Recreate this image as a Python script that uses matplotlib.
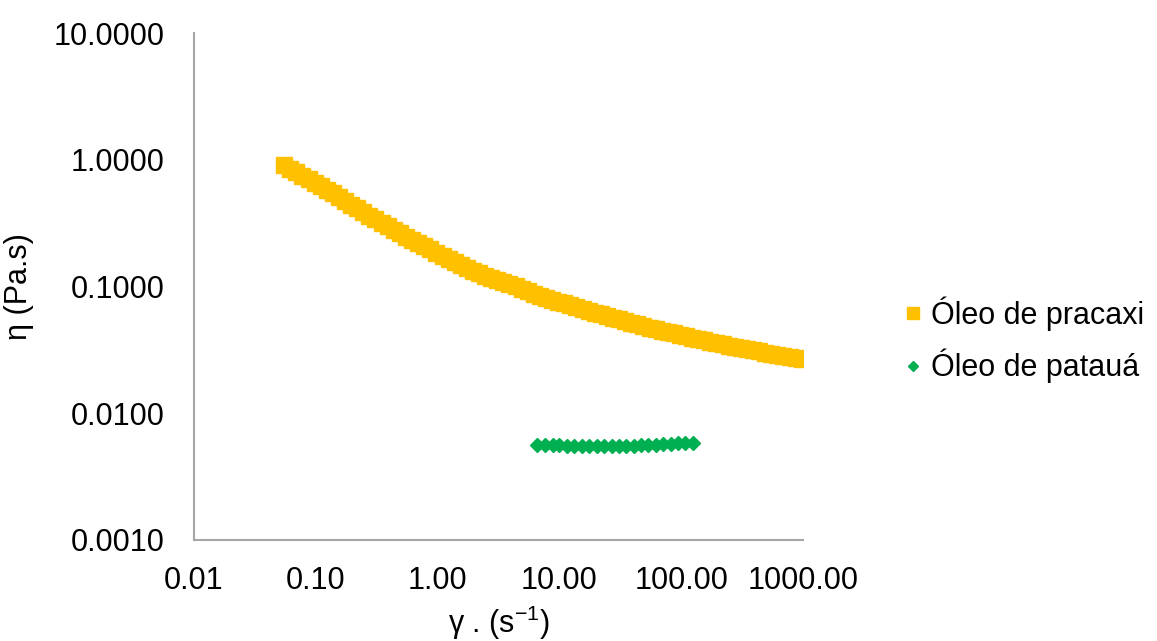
import matplotlib.pyplot as plt
from matplotlib.ticker import FixedLocator, FuncFormatter, NullLocator

plt.rcParams['font.family'] = ['Liberation Sans', 'DejaVu Sans']

# shear rate (1/s) and viscosity (Pa.s)
pracaxi_rate = [0.0550, 0.0617, 0.0692, 0.0776, 0.0871, 0.0977, 0.110, 0.123, 0.138, 0.155,
                0.174, 0.195, 0.219, 0.245, 0.275, 0.309, 0.347, 0.389, 0.437, 0.490,
                0.550, 0.617, 0.692, 0.776, 0.871, 0.977, 1.10, 1.23, 1.38, 1.55,
                1.74, 1.95, 2.19, 2.45, 2.75, 3.09, 3.47, 3.89, 4.37, 4.90,
                5.50, 6.17, 6.92, 7.76, 8.71, 9.77, 11.0, 12.3, 13.8, 15.5,
                17.4, 19.5, 21.9, 24.5, 27.5, 30.9, 34.7, 38.9, 43.7, 49.0,
                55.0, 61.7, 69.2, 77.6, 87.1, 97.7, 110, 123, 138, 155,
                174, 195, 219, 245, 275, 309, 347, 389, 437, 490,
                550, 617, 692, 776, 871, 977]
pracaxi_visc = [0.910, 0.853, 0.800, 0.750, 0.703, 0.658, 0.617, 0.578, 0.542, 0.507,
                0.473, 0.443, 0.414, 0.387, 0.362, 0.340, 0.318, 0.299, 0.281, 0.264,
                0.248, 0.233, 0.220, 0.207, 0.196, 0.185, 0.175, 0.166, 0.157, 0.148,
                0.140, 0.133, 0.127, 0.122, 0.1175, 0.113, 0.109, 0.1045, 0.100, 0.0959,
                0.0918, 0.0879, 0.0841, 0.0813, 0.0785, 0.0760, 0.0735, 0.0711, 0.0687, 0.0665,
                0.0643, 0.0622, 0.0603, 0.0585, 0.0566, 0.0550, 0.0533, 0.0518, 0.0502, 0.0489,
                0.0474, 0.0461, 0.0449, 0.0437, 0.0426, 0.0415, 0.0405, 0.0394, 0.0385, 0.0376,
                0.0366, 0.0358, 0.0349, 0.0341, 0.0334, 0.0327, 0.0320, 0.0313, 0.0307, 0.0301,
                0.0294, 0.0289, 0.0284, 0.0279, 0.0274, 0.0269]

patava_rate = [6.6, 7.6, 8.8, 10.0, 11.6, 13.3, 15.3, 17.6, 20.2, 23.3, 26.8,
               30.8, 35.4, 40.7, 46.8, 53.8, 61.9, 71.2, 81.9, 94.2, 108, 125]
patava_visc = [0.0056, 0.0056, 0.0056, 0.0056, 0.0055, 0.0055, 0.0055, 0.0055, 0.0055, 0.0055, 0.0055,
               0.0055, 0.0055, 0.0055, 0.0056, 0.0056, 0.0056, 0.0057, 0.0057, 0.0058, 0.0058, 0.0058]

x_ticks = [0.01, 0.1, 1, 10, 100, 1000]
y_ticks = [0.001, 0.01, 0.1, 1, 10]


def main():
    fig = plt.figure(figsize=(11.57, 6.41), dpi=100)
    ax = fig.add_axes([0.1677, 0.1576, 0.5263, 0.7909])

    ax.plot(pracaxi_rate, pracaxi_visc, linestyle='none', marker='s', ms=11.5,
            color='#FFC000', mec='#FFC000', label='Óleo de pracaxi')
    ax.plot(patava_rate, patava_visc, linestyle='none', marker='D', ms=7,
            color='#00B050', mec='#00B050', label='Óleo de patauá')

    ax.set_xscale('log')
    ax.set_yscale('log')
    ax.set_xlim(0.01, 1000)
    ax.set_ylim(0.001, 10)

    ax.xaxis.set_major_locator(FixedLocator(x_ticks))
    ax.yaxis.set_major_locator(FixedLocator(y_ticks))
    ax.xaxis.set_minor_locator(NullLocator())
    ax.yaxis.set_minor_locator(NullLocator())
    ax.xaxis.set_major_formatter(FuncFormatter(lambda v, p: f"{v:.2f}"))
    ax.yaxis.set_major_formatter(FuncFormatter(lambda v, p: f"{v:.4f}"))
    ax.tick_params(axis='both', length=0, labelsize=22)
    ax.tick_params(axis='x', pad=19)
    ax.tick_params(axis='y', pad=21)

    for side in ['top', 'right']:
        ax.spines[side].set_visible(False)
    for side in ['left', 'bottom']:
        ax.spines[side].set_color('#a6a6a6')
        ax.spines[side].set_linewidth(1.5)

    ax.set_xlabel('γ . (s$^{\\mathregular{-1}}$)', fontsize=22, labelpad=5)
    ax.set_ylabel('η (Pa.s)', fontsize=22, labelpad=14)

    fig.legend(loc='center left', bbox_to_anchor=(0.757, 0.47), frameon=False,
               fontsize=22, handlelength=0.6, handletextpad=0.3, labelspacing=0.6,
               markerscale=0.8)

    fig.savefig('out.png', dpi=100)


main()
